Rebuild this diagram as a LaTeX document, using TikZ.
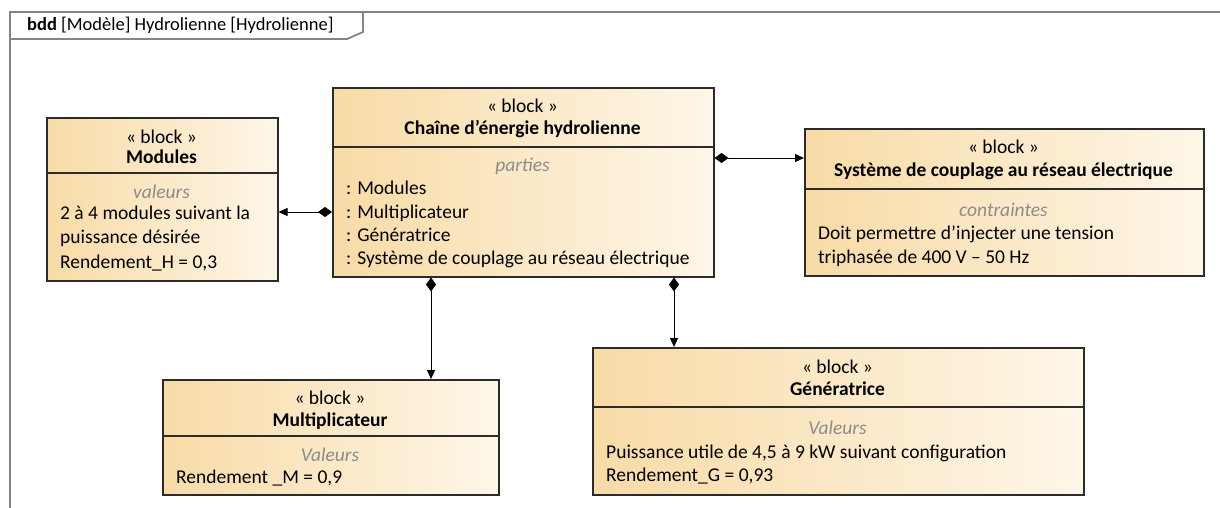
\documentclass[tikz,border=0pt]{standalone}
\usepackage{fontspec}
\setmainfont{Carlito}
\usetikzlibrary{arrows.meta}
\definecolor{blkL}{HTML}{F8DBA6}
\definecolor{blkR}{HTML}{FEF6E8}
\definecolor{frameC}{HTML}{858585}
\definecolor{edgeC}{HTML}{2B2B2B}
\definecolor{compC}{HTML}{8C8C8C}
\tikzset{
  blockbox/.style={draw=edgeC, line width=1.5pt, left color=blkL, right color=blkR, anchor=north west, inner sep=0pt},
  divline/.style={draw=edgeC, line width=1.3pt},
  stereo/.style={font=\fontsize{19.5}{24}\selectfont, anchor=base, inner sep=0pt},
  bname/.style={font=\fontsize{19.5}{24}\selectfont\bfseries, anchor=base, inner sep=0pt},
  comp/.style={font=\fontsize{19.5}{24}\selectfont\itshape, text=compC, anchor=base, inner sep=0pt},
  item/.style={font=\fontsize{19.5}{24}\selectfont, anchor=base west, inner sep=0pt},
  framel/.style={draw=frameC, line width=1.8pt},
  compo/.style={draw=black, line width=0.9pt, {Diamond[length=14pt,width=10pt]}-{Triangle[length=9pt,width=8pt]}}
}
\begin{document}
\begin{tikzpicture}[x=1pt,y=-1pt]
\useasboundingbox (0,0) rectangle (1220,507);
% frame
\draw[framel] (1222,12) -- (10,12) -- (10,509);
\draw[framel] (363,12) -- (363,32) -- (347,39) -- (10,39);
\node[font=\fontsize{18.5}{20}\selectfont, anchor=base west, inner sep=0pt] (title) at (27,30) {\textbf{bdd} [Modèle] Hydrolienne [Hydrolienne]};

% Modules
\node[blockbox, minimum width=231pt, minimum height=163pt] (mod) at (46,117) {};
\draw[divline] (46,173) -- (277,173);
\node[stereo] (modst) at (161.5,143) {« block »};
\node[bname] (modnm) at (161.5,163) {Modules};
\node[comp] (modcp) at (161.5,198) {valeurs};
\node[item] (mod1) at (60,219) {2 à 4 modules suivant la};
\node[item] (mod2) at (60,243) {puissance désirée};
\node[item] (mod3) at (60,268) {Rendement\_H = 0,3};

% Chaine
\node[blockbox, minimum width=381pt, minimum height=189pt] (ch) at (332,87) {};
\draw[divline] (332,147) -- (713,147);
\node[stereo] (chst) at (522.5,112) {« block »};
\node[bname] (chnm) at (522.5,134) {Chaîne d’énergie hydrolienne};
\node[comp] (chcp) at (522.5,171) {parties};
\node[item] (ch1) at (346,194) {: Modules};
\node[item] (ch2) at (346,218) {: Multiplicateur};
\node[item] (ch3) at (346,241) {: Génératrice};
\node[item] (ch4) at (346,264) {: Système de couplage au réseau électrique};

% Systeme
\node[blockbox, minimum width=399pt, minimum height=147pt] (sys) at (804,128) {};
\draw[divline] (804,189) -- (1203,189);
\node[stereo] (sysst) at (1003.5,153) {« block »};
\node[bname] (sysnm) at (1003.5,176) {Système de couplage au réseau électrique};
\node[comp] (syscp) at (1003.5,216) {contraintes};
\node[item] (sys1) at (818,239) {Doit permettre d’injecter une tension};
\node[item] (sys2) at (818,263) {triphasée de 400 V – 50 Hz};

% Multiplicateur
\node[blockbox, minimum width=336pt, minimum height=115pt] (mul) at (162,379) {};
\draw[divline] (162,436) -- (498,436);
\node[stereo] (mulst) at (330,404) {« block »};
\node[bname] (mulnm) at (330,426) {Multiplicateur};
\node[comp] (mulcp) at (330,461) {Valeurs};
\node[item] (mul1) at (176,483) {Rendement \_M = 0,9};

% Generatrice
\node[blockbox, minimum width=491pt, minimum height=147pt] (gen) at (592,347) {};
\draw[divline] (592,407) -- (1083,407);
\node[stereo] (genst) at (837.5,373) {« block »};
\node[bname] (gennm) at (837.5,395) {Génératrice};
\node[comp] (gencp) at (837.5,434) {Valeurs};
\node[item] (gen1) at (606,458) {Puissance utile de 4,5 à 9 kW suivant configuration};
\node[item] (gen2) at (606,481) {Rendement\_G = 0,93};

% connectors
\draw[compo] (ch.west |- 0,212) -- (mod.east |- 0,212);
\draw[compo] (ch.east |- 0,158) -- (sys.west |- 0,158);
\draw[compo] (ch.south -| 431,0) -- (mul.north -| 431,0);
\draw[compo] (ch.south -| 674,0) -- (gen.north -| 674,0);
\end{tikzpicture}
\end{document}
